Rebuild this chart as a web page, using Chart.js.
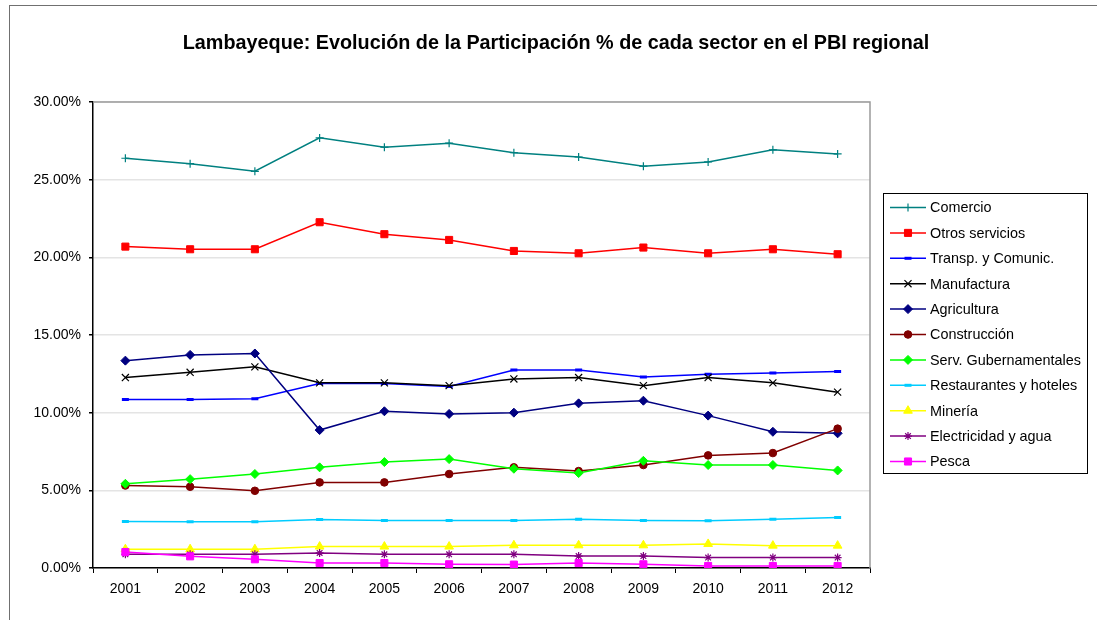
<!DOCTYPE html>
<html>
<head>
<meta charset="utf-8">
<title>Lambayeque PBI regional</title>
<script src="https://cdn.jsdelivr.net/npm/chart.js@4.4.0/dist/chart.umd.min.js"></script>
<style>
    html, body { margin: 0; padding: 0; background: #fff; }
    #contenedor { width: 1097px; height: 620px; position: relative; }
</style>
</head>
<body>
<div id="contenedor"><canvas id="grafico" width="1097" height="620"></canvas></div>
<script>
// Datos (participación % en el PBI regional)
const anios = ['2001', '2002', '2003', '2004', '2005', '2006', '2007', '2008', '2009', '2010', '2011', '2012'];
const yTicks = [0, 5, 10, 15, 20, 25, 30];

const comercio       = [26.38, 26.03, 25.54, 27.69, 27.09, 27.35, 26.74, 26.46, 25.87, 26.14, 26.92, 26.66];
const otrosServicios = [20.69, 20.52, 20.52, 22.26, 21.49, 21.12, 20.41, 20.26, 20.63, 20.26, 20.52, 20.20];
const transporte     = [10.84, 10.84, 10.90, 11.87, 11.87, 11.68, 12.74, 12.74, 12.30, 12.48, 12.56, 12.65];
const manufactura    = [12.26, 12.60, 12.95, 11.92, 11.92, 11.74, 12.17, 12.26, 11.74, 12.26, 11.92, 11.32];
const agricultura    = [13.35, 13.72, 13.81, 8.88, 10.09, 9.92, 10.00, 10.60, 10.77, 9.81, 8.77, 8.67];
const construccion   = [5.31, 5.23, 4.97, 5.51, 5.51, 6.05, 6.48, 6.24, 6.63, 7.25, 7.40, 8.97];
const servGub        = [5.42, 5.72, 6.05, 6.48, 6.82, 7.01, 6.39, 6.11, 6.90, 6.63, 6.63, 6.28];
const restaurantes   = [2.99, 2.97, 2.97, 3.12, 3.06, 3.06, 3.06, 3.14, 3.06, 3.04, 3.14, 3.25];
const mineria        = [1.21, 1.21, 1.21, 1.38, 1.38, 1.38, 1.46, 1.46, 1.46, 1.55, 1.44, 1.44];
const electricidad   = [0.88, 0.88, 0.88, 0.97, 0.88, 0.88, 0.88, 0.77, 0.77, 0.67, 0.67, 0.67];
const pesca          = [1.03, 0.75, 0.56, 0.32, 0.32, 0.24, 0.22, 0.32, 0.24, 0.13, 0.13, 0.13];

const FUENTE = 'Arial, "Liberation Sans", sans-serif';

/**
 * Crea una serie con el estilo de Excel (línea + marcador)
 */
function serie(nombre, datos, color, marcador, radio, grosor) {
    return {
        label: nombre,
        data: datos,
        borderColor: color,
        backgroundColor: color,
        borderWidth: 1.5,
        pointStyle: marcador,
        pointRadius: radio,
        pointHoverRadius: radio,
        pointBorderWidth: grosor || 1,
        pointBackgroundColor: color,
        pointBorderColor: color,
        tension: 0,
        fill: false
    };
}

const series = [
    serie('Comercio', comercio, '#008080', 'cross', 4, 1.2),
    serie('Otros servicios', otrosServicios, '#FF0000', 'rect', 5, 1),
    serie('Transp. y Comunic.', transporte, '#0000FF', 'line', 3.5, 3),
    serie('Manufactura', manufactura, '#000000', 'crossRot', 5, 1.2),
    serie('Agricultura', agricultura, '#000080', 'rectRot', 4.5, 1),
    serie('Construcción', construccion, '#800000', 'circle', 3.8, 1),
    serie('Serv. Gubernamentales', servGub, '#00FF00', 'rectRot', 4.5, 1),
    serie('Restaurantes y hoteles', restaurantes, '#00CCFF', 'line', 3.5, 3),
    serie('Minería', mineria, '#FFFF00', 'triangle', 5, 1),
    serie('Electricidad y agua', electricidad, '#800080', 'star', 4, 1.2),
    serie('Pesca', pesca, '#FF00FF', 'rect', 5, 1)
];
// Excel dibuja la última serie encima
series.forEach((s, i) => { s.order = -i; });

/**
 * Marco exterior, título y borde del área de trazado
 */
const marcoPlugin = {
    id: 'marco',
    beforeDraw(chart) {
        const ctx = chart.ctx;
        ctx.save();
        ctx.fillStyle = '#fff';
        ctx.fillRect(0, 0, chart.width, chart.height);
        ctx.strokeStyle = '#707070';
        ctx.lineWidth = 1;
        ctx.strokeRect(9.5, 5.5, 1200, 1200);
        ctx.fillStyle = '#000';
        ctx.font = 'bold 19.8px ' + FUENTE;
        ctx.textAlign = 'center';
        ctx.textBaseline = 'middle';
        ctx.fillText('Lambayeque: Evolución de la Participación % de cada sector en el PBI regional', 556, 44);
        ctx.restore();
    },
    beforeDatasetsDraw(chart) {
        const a = chart.chartArea;
        const ctx = chart.ctx;
        ctx.save();
        ctx.strokeStyle = '#9a9a9a';
        ctx.lineWidth = 1.5;
        ctx.beginPath();
        ctx.moveTo(a.left, a.top);
        ctx.lineTo(a.right, a.top);
        ctx.lineTo(a.right, a.bottom);
        ctx.stroke();
        ctx.restore();
    }
};

/**
 * Leyenda con recuadro al estilo Excel
 */
const leyendaPlugin = {
    id: 'leyendaExcel',
    afterDraw(chart) {
        const ctx = chart.ctx;
        ctx.save();
        ctx.strokeStyle = '#000';
        ctx.lineWidth = 1;
        ctx.strokeRect(883.5, 193.5, 204, 280);
        chart.data.datasets.forEach((ds, i) => {
            const y = 207.5 + i * 25.4;
            ctx.strokeStyle = ds.borderColor;
            ctx.lineWidth = 1.5;
            ctx.beginPath();
            ctx.moveTo(890, y);
            ctx.lineTo(926, y);
            ctx.stroke();
            ctx.fillStyle = ds.pointBackgroundColor;
            ctx.strokeStyle = ds.pointBorderColor;
            ctx.lineWidth = ds.pointBorderWidth;
            Chart.helpers.drawPoint(ctx, {
                pointStyle: ds.pointStyle,
                radius: ds.pointRadius,
                borderWidth: ds.pointBorderWidth,
                rotation: 0
            }, 908, y);
            ctx.fillStyle = '#000';
            ctx.font = '14.4px ' + FUENTE;
            ctx.textAlign = 'left';
            ctx.textBaseline = 'middle';
            ctx.fillText(ds.label, 930, y + 1);
        });
        ctx.restore();
    }
};

document.addEventListener('DOMContentLoaded', function() {
    const ctx = document.getElementById('grafico');
    new Chart(ctx, {
        type: 'line',
        data: { labels: anios, datasets: series },
        plugins: [marcoPlugin, leyendaPlugin],
        options: {
            responsive: false,
            animation: false,
            devicePixelRatio: 1,
            layout: { padding: { left: 0, right: 227, top: 102, bottom: 0 } },
            plugins: {
                legend: { display: false },
                title: { display: false },
                tooltip: { enabled: false }
            },
            scales: {
                x: {
                    offset: true,
                    grid: {
                        offset: true,
                        drawOnChartArea: false,
                        drawTicks: true,
                        tickLength: 5,
                        color: '#000',
                        tickColor: '#000'
                    },
                    border: { color: '#000', width: 1.5 },
                    ticks: {
                        color: '#000',
                        font: { family: FUENTE, size: 14 },
                        padding: 8,
                        maxRotation: 0
                    },
                    afterFit(scale) { scale.height = 52; }
                },
                y: {
                    min: 0,
                    max: 30,
                    afterBuildTicks(scale) {
                        scale.ticks = yTicks.map(v => ({ value: v }));
                    },
                    grid: {
                        color: '#e4e4e4',
                        tickColor: '#000',
                        tickLength: 4,
                        lineWidth: 1.5
                    },
                    border: { color: '#000', width: 1.5 },
                    ticks: {
                        color: '#000',
                        font: { family: FUENTE, size: 14 },
                        padding: 8,
                        callback: v => v.toFixed(2) + '%'
                    },
                    afterFit(scale) { scale.width = 93; }
                }
            }
        }
    });
});
</script>
</body>
</html>
